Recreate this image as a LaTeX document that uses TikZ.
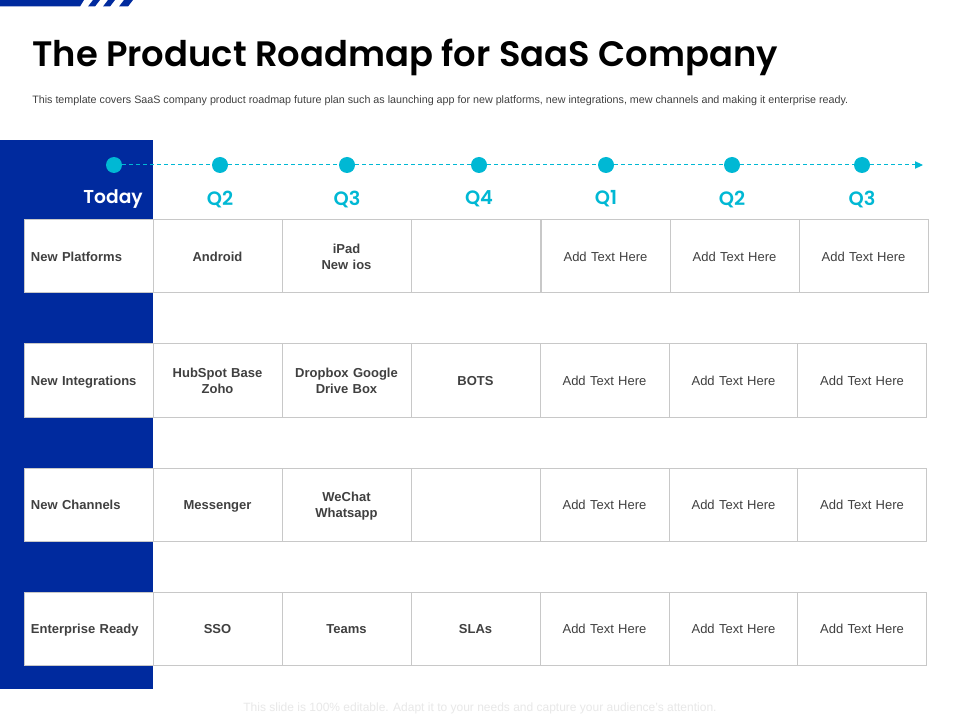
\documentclass[tikz,border=0pt]{standalone}
\usepackage{fontspec}
\setmainfont{Liberation Sans}
\newfontfamily\titlefont{Poppins}[BoldFont={Poppins SemiBold}]
\usetikzlibrary{arrows.meta}
\definecolor{navy}{HTML}{002A9E}
\definecolor{teal}{HTML}{00B8D4}
\definecolor{gridc}{HTML}{C8C8C8}
\definecolor{ink}{HTML}{404040}
\newdimen\px \px=0.75pt
\tikzset{
 x=0.75pt,y=-0.75pt,
 cell/.style={draw=gridc,line width=1\px,fill=white,anchor=north west,outer sep=0pt,inner sep=0pt,minimum width=129\px,minimum height=73.5\px,text width=120\px,align=center,text=ink,font=\fontsize{9.75pt}{12pt}\selectfont,
   execute at begin node={\rule{0pt}{9.75pt}},execute at end node={\rule[-2.25pt]{0pt}{2.25pt}}},
 boldcell/.style={cell,font=\fontsize{9.75pt}{12pt}\selectfont\bfseries},
 headcell/.style={boldcell,align=left,text width=115\px},
 dot/.style={circle,fill=teal,draw=none,minimum size=16\px,inner sep=0pt},
 qlabel/.style={text=teal,font=\titlefont\fontsize{14.5pt}{16pt}\selectfont\bfseries},
 timeline/.style={draw=teal,line width=1\px,dash pattern=on 4\px off 3\px},
}
\begin{document}
\begin{tikzpicture}
\useasboundingbox (0,0) rectangle (960,720);
\fill[white] (0,0) rectangle (960,720);
% top stripe
\fill[navy] (0,0) -- (84,0) -- (80,6.5) -- (0,6.5) -- cycle;
\fill[navy] (93,0) -- (100,0) -- (95,6.5) -- (88,6.5) -- cycle;
\fill[navy] (108,0) -- (115,0) -- (110,6.5) -- (103,6.5) -- cycle;
\fill[navy] (124,0) -- (133,0) -- (128,6.5) -- (119,6.5) -- cycle;
% title
\node[anchor=west,inner sep=0pt,font=\titlefont\fontsize{26.5pt}{30pt}\selectfont\bfseries] (title) at (32,57) {The Product Roadmap for SaaS Company};
\node[anchor=west,inner sep=0pt,text=ink,font=\fontsize{8.05pt}{9pt}\selectfont] (sub) at (32,101) {This template covers SaaS company product roadmap future plan such as launching app for new platforms, new integrations, mew channels and making it enterprise ready.};
% blue band
\fill[navy] (0,140) rectangle (153,689);
% timeline
\node[dot] (t0) at (114,165) {};
\node[dot] (t1) at (220,165) {};
\node[dot] (t2) at (347,165) {};
\node[dot] (t3) at (479,165) {};
\node[dot] (t4) at (606,165) {};
\node[dot] (t5) at (732,165) {};
\node[dot] (t6) at (862,165) {};
\coordinate (tend) at (923,165);
\draw[timeline] (t0) -- (t1);
\draw[timeline] (t1) -- (t2);
\draw[timeline] (t2) -- (t3);
\draw[timeline] (t3) -- (t4);
\draw[timeline] (t4) -- (t5);
\draw[timeline] (t5) -- (t6);
\draw[timeline,-{Triangle[length=6pt,width=5.5pt,fill=teal]}] (t6) -- (tend);
\node[anchor=east,inner sep=0pt,text=white,font=\titlefont\fontsize{14pt}{16pt}\selectfont\bfseries] (today) at (143,199) {Today};
\node[qlabel] (q1) at (220,199) {Q2};
\node[qlabel] (q2) at (347,199) {Q3};
\node[qlabel] (q3) at (479,199) {Q4};
\node[qlabel] (q4) at (606,199) {Q1};
\node[qlabel] (q5) at (732,199) {Q2};
\node[qlabel] (q6) at (862,199) {Q3};
% row 1
\node[headcell] (a0) at (24,219.5) {New Platforms};
\node[boldcell] (a1) at (153,219.5) {Android};
\node[boldcell] (a2) at (282,219.5) {iPad\\New ios};
\node[boldcell] (a3) at (411.5,219.5) {};
\node[cell] (a4) at (541,219.5) {Add Text Here};
\node[cell] (a5) at (670,219.5) {Add Text Here};
\node[cell] (a6) at (799,219.5) {Add Text Here};
% row 2
\node[headcell] (b0) at (24,343.5) {New Integrations};
\node[boldcell] (b1) at (153,343.5) {HubSpot Base\\Zoho};
\node[boldcell] (b2) at (282,343.5) {Dropbox Google\\Drive Box};
\node[boldcell] (b3) at (411,343.5) {BOTS};
\node[cell] (b4) at (540,343.5) {Add Text Here};
\node[cell] (b5) at (669,343.5) {Add Text Here};
\node[cell] (b6) at (797.5,343.5) {Add Text Here};
% row 3
\node[headcell] (c0) at (24,468) {New Channels};
\node[boldcell] (c1) at (153,468) {Messenger};
\node[boldcell] (c2) at (282,468) {WeChat\\Whatsapp};
\node[boldcell] (c3) at (411,468) {};
\node[cell] (c4) at (540,468) {Add Text Here};
\node[cell] (c5) at (669,468) {Add Text Here};
\node[cell] (c6) at (797.5,468) {Add Text Here};
% row 4
\node[headcell] (d0) at (24,592) {Enterprise Ready};
\node[boldcell] (d1) at (153,592) {SSO};
\node[boldcell] (d2) at (282,592) {Teams};
\node[boldcell] (d3) at (411,592) {SLAs};
\node[cell] (d4) at (540,592) {Add Text Here};
\node[cell] (d5) at (669,592) {Add Text Here};
\node[cell] (d6) at (797.5,592) {Add Text Here};
% footer
\node[inner sep=0pt,text=black!9,font=\fontsize{9pt}{11pt}\selectfont] (foot) at (480,708) {This slide is 100\% editable. Adapt it to your needs and capture your audience's attention.};
\end{tikzpicture}
\end{document}
